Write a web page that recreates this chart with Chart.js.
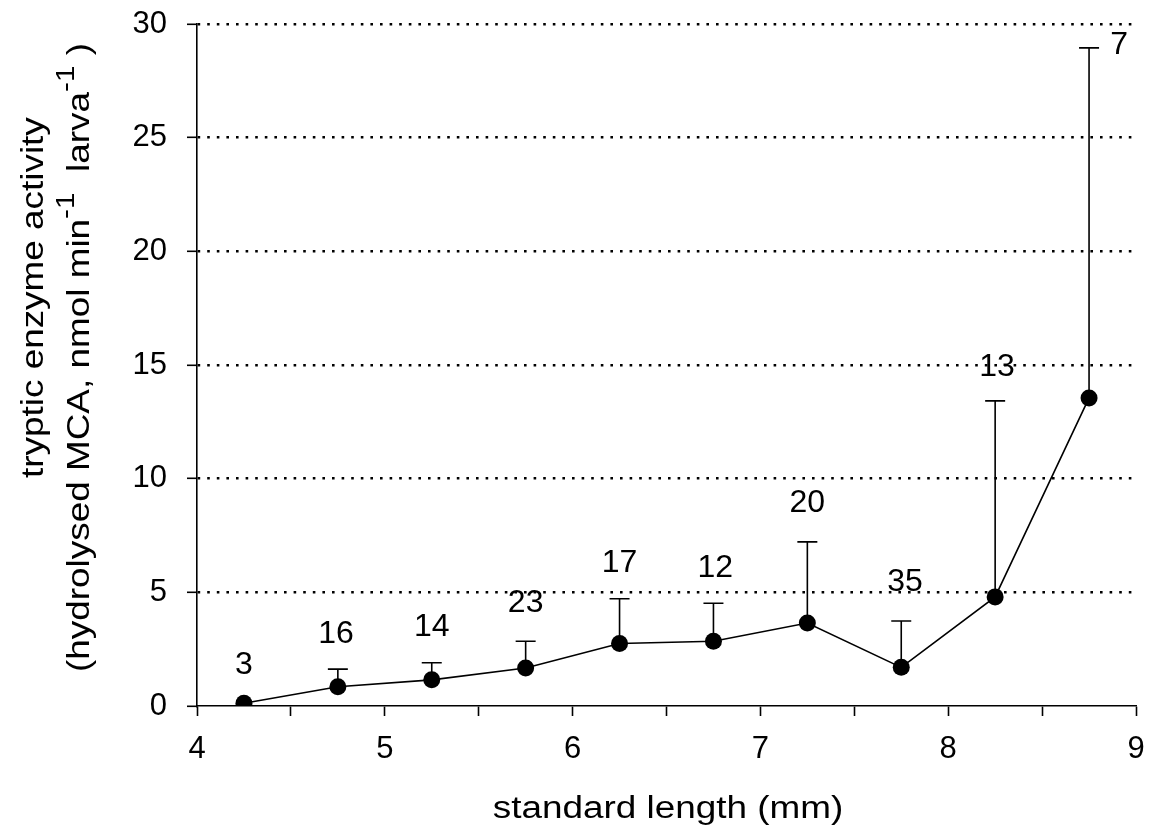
<!DOCTYPE html>
<html lang="en">

<head>
    <meta charset="UTF-8">
    <title>Tryptic enzyme activity</title>
    <script src="https://cdn.jsdelivr.net/npm/chart.js"></script>
</head>

<body style="margin: 0; background: white; overflow: hidden;">
    <div style="width: 1154px; height: 836px;">
        <canvas id="chart" width="1154" height="836"></canvas>
    </div>

    <script>
        // standard length classes (mm) and mean tryptic activity
        const lengths = [4.25, 4.75, 5.25, 5.75, 6.25, 6.75, 7.25, 7.75, 8.25, 8.75];
        const activity = [0.12, 0.85, 1.15, 1.67, 2.75, 2.85, 3.65, 1.7, 4.8, 13.55];
        const errorTop = [0.12, 1.62, 1.9, 2.85, 4.72, 4.52, 7.22, 3.74, 13.42, 28.95];

        // sample size labels and where they sit (data units)
        const nLabels = ['3', '16', '14', '23', '17', '12', '20', '35', '13', '7'];
        const nLabelX = [4.25, 4.74, 5.25, 5.75, 6.25, 6.76, 7.25, 7.77, 8.26, 8.91];
        const nLabelY = [1.8, 3.17, 3.48, 4.53, 6.29, 6.07, 8.93, 5.46, 14.9, 29.08];

        const yTicks = [0, 5, 10, 15, 20, 25, 30];

        const FONT = '"Liberation Sans", Arial, sans-serif';

        const errorBars = {
            id: 'errorBars',
            beforeDatasetsDraw(chart) {
                const ctx = chart.ctx;
                const x = chart.scales.x, y = chart.scales.y;
                ctx.save();
                ctx.strokeStyle = '#000';
                ctx.lineWidth = 1.6;
                lengths.forEach((l, i) => {
                    if (errorTop[i] <= activity[i]) return;
                    const px = x.getPixelForValue(l);
                    const p0 = y.getPixelForValue(activity[i]);
                    const p1 = y.getPixelForValue(errorTop[i]);
                    ctx.beginPath();
                    ctx.moveTo(px, p0);
                    ctx.lineTo(px, p1);
                    ctx.moveTo(px - 10, p1);
                    ctx.lineTo(px + 10, p1);
                    ctx.stroke();
                });
                ctx.restore();
            }
        };

        const extraText = {
            id: 'extraText',
            afterDraw(chart) {
                const ctx = chart.ctx;
                const x = chart.scales.x, y = chart.scales.y;
                const stretch = 1.19;
                ctx.save();
                ctx.fillStyle = '#000';

                // n labels
                ctx.font = '32px ' + FONT;
                ctx.textAlign = 'center';
                ctx.textBaseline = 'middle';
                nLabels.forEach((t, i) => {
                    ctx.fillText(t, x.getPixelForValue(nLabelX[i]), y.getPixelForValue(nLabelY[i]));
                });

                // x title
                ctx.save();
                ctx.font = '31px ' + FONT;
                ctx.textAlign = 'center';
                ctx.textBaseline = 'alphabetic';
                ctx.translate(668, 818);
                ctx.scale(stretch, 1);
                ctx.fillText('standard length (mm)', 0, 0);
                ctx.restore();

                // y title, line 1
                ctx.save();
                ctx.font = '31px ' + FONT;
                ctx.textAlign = 'left';
                ctx.textBaseline = 'alphabetic';
                ctx.translate(43, 478);
                ctx.rotate(-Math.PI / 2);
                ctx.scale(stretch, 1);
                ctx.fillText('tryptic enzyme activity', 0, 0);
                ctx.restore();

                // y title, line 2 with superscripts
                const parts = [
                    ['(hydrolysed MCA, nmol min', false],
                    ['-1', true],
                    ['  larva', false],
                    ['-1', true],
                    [' )', false]
                ];
                const mainFont = '31px ' + FONT, supFont = '25px ' + FONT;
                let total = 0;
                parts.forEach(p => {
                    ctx.font = p[1] ? supFont : mainFont;
                    total += ctx.measureText(p[0]).width;
                });
                ctx.save();
                ctx.textAlign = 'left';
                ctx.textBaseline = 'alphabetic';
                ctx.translate(89, 43 + total * stretch);
                ctx.rotate(-Math.PI / 2);
                ctx.scale(stretch, 1);
                let cx = 0;
                parts.forEach(p => {
                    ctx.font = p[1] ? supFont : mainFont;
                    ctx.fillText(p[0], cx, p[1] ? -15 : 0);
                    cx += ctx.measureText(p[0]).width;
                });
                ctx.restore();

                ctx.restore();
            }
        };

        const ctx = document.getElementById('chart').getContext('2d');

        new Chart(ctx, {
            type: 'scatter',
            data: {
                datasets: [{
                    data: lengths.map((l, i) => ({ x: l, y: activity[i] })),
                    showLine: true,
                    borderColor: '#000',
                    borderWidth: 1.6,
                    backgroundColor: '#000',
                    pointBackgroundColor: '#000',
                    pointBorderColor: '#000',
                    pointRadius: 8.5,
                    pointBorderWidth: 0,
                    tension: 0
                }]
            },
            options: {
                responsive: false,
                animation: false,
                layout: {
                    padding: { top: 24, right: 18, left: 0, bottom: 0 }
                },
                plugins: {
                    legend: { display: false },
                    tooltip: { enabled: false }
                },
                scales: {
                    x: {
                        type: 'linear',
                        min: 4,
                        max: 9,
                        afterFit: s => {
                            s.height = 130;
                            s.paddingLeft = 0;
                            s.paddingRight = 0;
                        },
                        border: { display: true, color: '#000', width: 1.6 },
                        grid: {
                            drawOnChartArea: false,
                            drawTicks: true,
                            tickLength: 10,
                            tickColor: '#000',
                            tickWidth: 1.6
                        },
                        ticks: {
                            stepSize: 0.5,
                            color: '#000',
                            padding: 15,
                            maxRotation: 0,
                            autoSkip: false,
                            font: { family: FONT, size: 31 },
                            callback: v => Number.isInteger(v) ? String(v) : ''
                        }
                    },
                    y: {
                        min: 0,
                        max: 30,
                        afterFit: s => {
                            s.width = 197;
                            s.paddingTop = 0;
                            s.paddingBottom = 0;
                        },
                        afterBuildTicks: s => { s.ticks = yTicks.map(v => ({ value: v })); },
                        // in v4 border.dash styles the grid lines, the axis line stays solid
                        border: { display: true, color: '#000', width: 1.6, dash: [2.6, 7] },
                        grid: {
                            color: c => c.tick && c.tick.value === 0 ? 'rgba(0,0,0,0)' : '#000',
                            lineWidth: 2.6,
                            tickBorderDash: [],
                            tickLength: 10,
                            tickColor: '#000',
                            tickWidth: 1.6
                        },
                        ticks: {
                            color: '#000',
                            padding: 20,
                            font: { family: FONT, size: 31 }
                        }
                    }
                }
            },
            plugins: [errorBars, extraText]
        });
    </script>
</body>

</html>
